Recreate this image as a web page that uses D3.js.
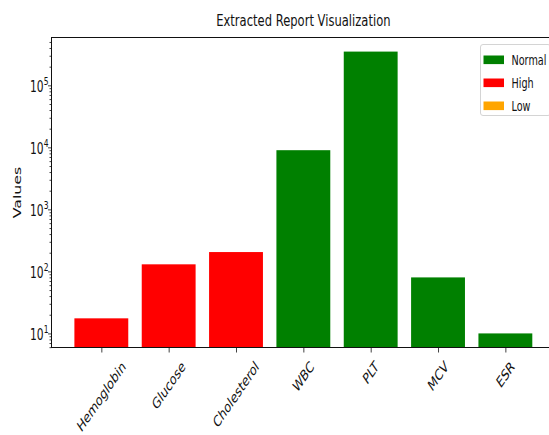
<!DOCTYPE html>
<html>
<head>
<meta charset="utf-8">
<script src="https://cdn.jsdelivr.net/npm/d3@7"></script>
<style>
  html, body { margin: 0; padding: 0; background: #fff; }
  svg { display: block; }
  text { font-family: "DejaVu Sans", sans-serif; fill: #111; }
</style>
</head>
<body>
<svg id="chart" width="549" height="435"></svg>
<script>
// Lab report values, one bar per test
const categories = ["Hemoglobin", "Glucose", "Cholesterol", "WBC", "PLT", "MCV", "ESR"];
const values = [17.5, 130, 205, 9000, 350000, 80, 10];
const statuses = ["High", "High", "High", "Normal", "Normal", "Normal", "Normal"];

// Legend entries and their colours
const legendLabels = ["Normal", "High", "Low"];
const legendColors = ["green", "red", "orange"];

const titleText = "Extracted Report Visualization";
const yLabelText = "Values";

const W = 549, H = 435;
const plot = { left: 51.5, right: 555.2, top: 37.5, bottom: 347.5 };
const squash = 0.69; // horizontal text compression

const svg = d3.select("#chart");
const color = d3.scaleOrdinal().domain(legendLabels).range(legendColors);

// x: category index with a 5% margin around the bars
const barW = 0.8;
const n = categories.length;
const xPad = (n - 1 + barW) * 0.05;
const x = d3.scaleLinear()
  .domain([-barW / 2 - xPad, n - 1 + barW / 2 + xPad])
  .range([plot.left, plot.right]);

// y: log scale with a 5% margin in log space
const lmin = Math.log10(d3.min(values)), lmax = Math.log10(d3.max(values));
const lpad = (lmax - lmin) * 0.05;
const y = d3.scaleLog()
  .domain([Math.pow(10, lmin - lpad), Math.pow(10, lmax + lpad)])
  .range([plot.bottom, plot.top]);

// Bars
svg.append("g").selectAll("rect")
  .data(categories)
  .join("rect")
  .attr("x", (d, i) => x(i - barW / 2))
  .attr("width", (d, i) => x(barW) - x(0))
  .attr("y", (d, i) => y(values[i]))
  .attr("height", (d, i) => plot.bottom - y(values[i]))
  .attr("fill", (d, i) => color(statuses[i]));

// Y ticks: majors at powers of ten, minors in between
const allTicks = y.ticks();
const isMajor = v => Math.abs(Math.log10(v) - Math.round(Math.log10(v))) < 1e-9;
const majors = allTicks.filter(isMajor);
const minors = allTicks.filter(v => !isMajor(v));

const yMajor = svg.append("g")
  .attr("transform", `translate(${plot.left},0)`)
  .call(d3.axisLeft(y).tickValues(majors).tickSize(3.5).tickFormat(""));
const yMinor = svg.append("g")
  .attr("transform", `translate(${plot.left},0)`)
  .call(d3.axisLeft(y).tickValues(minors).tickSize(2).tickFormat(""));
[yMajor, yMinor].forEach(g => {
  g.select(".domain").remove();
  g.selectAll("line").attr("stroke", "#111").attr("stroke-width", 0.8);
});

// Y tick labels as 10 with a superscript exponent
majors.forEach(v => {
  const e = Math.round(Math.log10(v));
  const g = svg.append("g")
    .attr("transform", `translate(48.5,${y(v) + 6.5}) scale(${squash},1)`);
  const t = g.append("text").attr("text-anchor", "end").style("font-size", "15.5px");
  t.append("tspan").text("10");
  t.append("tspan").attr("dy", "-6.5").style("font-size", "11px").text(e);
});

// X axis ticks
const xAxis = svg.append("g")
  .attr("transform", `translate(0,${plot.bottom})`)
  .call(d3.axisBottom(x).tickValues(d3.range(n)).tickSize(5).tickFormat(""));
xAxis.select(".domain").remove();
xAxis.selectAll("line").attr("stroke", "#111").attr("stroke-width", 0.8);

// X tick labels, rotated 45 degrees and centred under each tick
const xfs = 15.3;
categories.forEach((c, i) => {
  const g = svg.append("g");
  const t = g.append("text")
    .attr("text-anchor", "middle")
    .attr("dy", "0.35em")
    .attr("transform", "rotate(-45)")
    .style("font-size", xfs + "px")
    .text(c);
  const w = t.node().getComputedTextLength();
  const h = xfs * 1.17;
  const half = (w + h) * Math.SQRT1_2 / 2;
  g.attr("transform", `translate(${x(i)},${plot.bottom + 10 + half}) scale(${squash},1)`);
});

// Frame
svg.append("rect")
  .attr("x", plot.left).attr("y", plot.top)
  .attr("width", plot.right - plot.left).attr("height", plot.bottom - plot.top)
  .attr("fill", "none").attr("stroke", "#111").attr("stroke-width", 1);

// Y label
svg.append("g")
  .attr("transform", `translate(20.5,${(plot.top + plot.bottom) / 2}) scale(0.66,1)`)
  .append("text")
  .attr("transform", "rotate(-90)")
  .attr("text-anchor", "middle")
  .style("font-size", "15.8px")
  .text(yLabelText);

// Title
svg.append("g")
  .attr("transform", `translate(${(plot.left + plot.right) / 2},26) scale(0.70,1)`)
  .append("text")
  .attr("text-anchor", "middle")
  .style("font-size", "16.5px")
  .text(titleText);

// Legend
const leg = svg.append("g").attr("transform", "translate(480,44)");
leg.append("rect")
  .attr("x", 0.5).attr("y", 0.5).attr("width", 70).attr("height", 71)
  .attr("rx", 2.5)
  .attr("fill", "#fff").attr("fill-opacity", 0.8)
  .attr("stroke", "#d4d4d4").attr("stroke-width", 1);
legendLabels.forEach((lab, i) => {
  const row = leg.append("g").attr("transform", `translate(0,${i * 23})`);
  row.append("rect")
    .attr("x", 3.5).attr("y", 11.5).attr("width", 20.5).attr("height", 8.6)
    .attr("fill", color(lab));
  row.append("g")
    .attr("transform", `translate(31.5,21) scale(${squash},1)`)
    .append("text")
    .style("font-size", "14px")
    .text(lab);
});
</script>
</body>
</html>
